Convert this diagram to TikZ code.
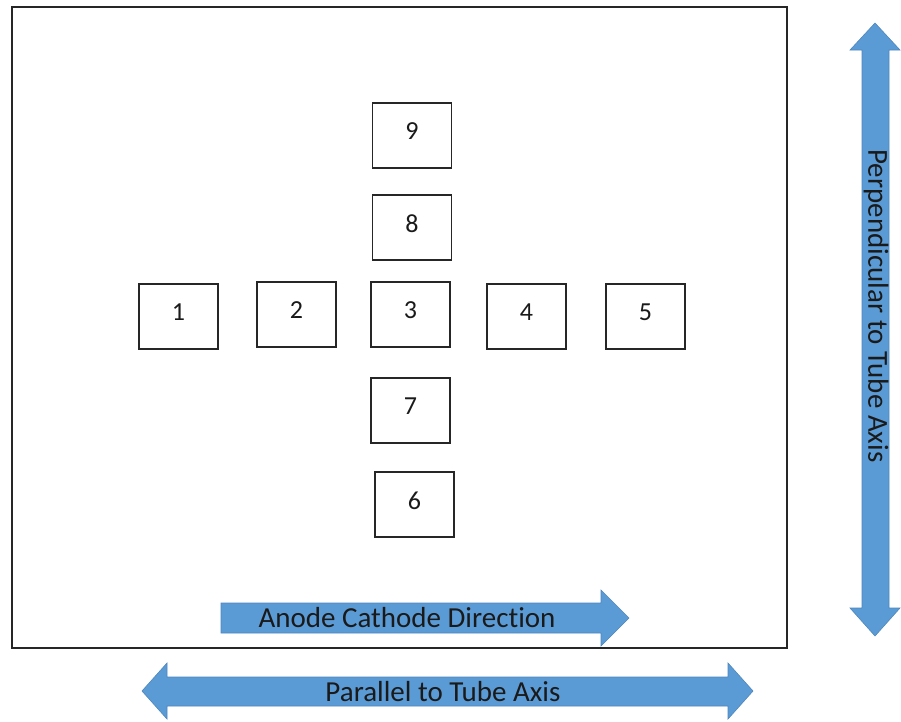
\documentclass[tikz,border=0pt]{standalone}
\usepackage{fontspec}
\setmainfont{Carlito}[Ligatures={NoCommon}]
\definecolor{arrowblue}{HTML}{5B9BD5}
\definecolor{arrowedge}{HTML}{4F87BC}
\definecolor{inktext}{HTML}{1A1A1A}
\begin{document}
\begin{tikzpicture}[x=1pt,y=-1pt,
  frame/.style={draw=black!85, line width=1.4pt},
  sq/.style={draw=black!85, line width=1.3pt, minimum width=79pt, minimum height=65pt, inner sep=0pt},
  num/.style={text=inktext, font=\fontsize{26}{30}\selectfont},
  bigarrow/.style={fill=arrowblue, draw=arrowedge, line width=0.6pt, line join=miter},
  arrowtext/.style={text=inktext, font=\fontsize{29}{33}\selectfont, inner sep=0pt}]
\useasboundingbox (0,0) rectangle (901,721);
\fill[white] (0,0) rectangle (901,721);

% outer frame
\draw[frame] (12,7) rectangle (787,648);

% measurement boxes
\node[sq, label={[num, yshift=4pt]center:9}] (b9) at (412,135.5) {};
\node[sq, label={[num, yshift=4pt]center:8}] (b8) at (412,227.5) {};
\node[sq, label={[num, yshift=4pt]center:1}] (b1) at (178.5,316.5) {};
\node[sq, label={[num, yshift=4pt]center:2}] (b2) at (296.5,314.5) {};
\node[sq, label={[num, yshift=4pt]center:3}] (b3) at (410.5,314.5) {};
\node[sq, label={[num, yshift=4pt]center:4}] (b4) at (526.5,316.5) {};
\node[sq, label={[num, yshift=4pt]center:5}] (b5) at (645.5,316.5) {};
\node[sq, label={[num, yshift=4pt]center:7}] (b7) at (410.5,410.5) {};
\node[sq, label={[num, yshift=4pt]center:6}] (b6) at (414.5,504.5) {};

% anode-cathode direction arrow
\draw[bigarrow] (221,603) -- (601,603) -- (601,590) -- (629,618) -- (601,646)
  -- (601,633) -- (221,633) -- cycle;
\node[arrowtext] (lblac) at (407,618) {Anode Cathode Direction};

% parallel axis double arrow
\draw[bigarrow] (142,691) -- (167,663) -- (167,677) -- (728,677) -- (728,663)
  -- (753,691) -- (728,719) -- (728,706) -- (167,706) -- (167,719) -- cycle;
\node[arrowtext] (lblpar) at (443,692) {Parallel to Tube Axis};

% perpendicular axis double arrow
\draw[bigarrow] (875,23) -- (900,50) -- (889,50) -- (889,608) -- (900,608)
  -- (875,636) -- (850,608) -- (862,608) -- (862,50) -- (850,50) -- cycle;
\node[arrowtext, rotate=-90] (lblperp) at (876,306) {Perpendicular to Tube Axis};
\end{tikzpicture}
\end{document}
